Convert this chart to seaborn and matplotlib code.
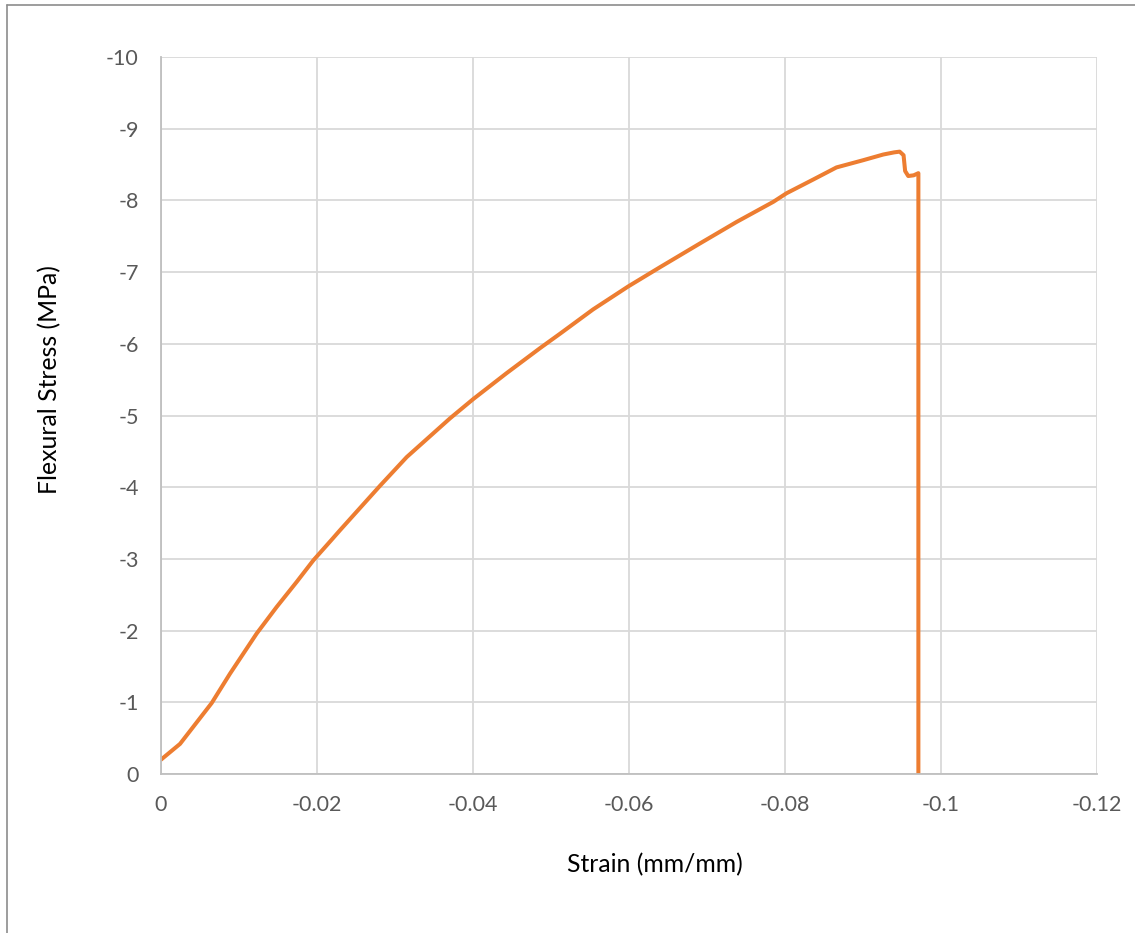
import matplotlib
matplotlib.use("Agg")
import matplotlib.pyplot as plt
import seaborn as sns
import pandas as pd
from matplotlib.lines import Line2D

strain = [0, -0.00244, -0.00415, -0.0065, -0.00885, -0.01227, -0.01483, -0.0174,
          -0.01953, -0.0219, -0.02295, -0.02808, -0.0315, -0.03705, -0.04004,
          -0.0443, -0.0486, -0.05115, -0.0554, -0.0599, -0.064, -0.0691, -0.0738,
          -0.0785, -0.0802, -0.0836, -0.0866, -0.090, -0.0926, -0.0940, -0.0947,
          -0.0952, -0.0954, -0.0958, -0.0965, -0.0971, -0.0971]
stress = [-0.2, -0.42, -0.66, -0.99, -1.40, -1.96, -2.33, -2.68,
          -2.98, -3.27, -3.40, -4.02, -4.42, -4.96, -5.23,
          -5.59, -5.94, -6.14, -6.48, -6.80, -7.07, -7.40, -7.70,
          -7.98, -8.10, -8.29, -8.46, -8.56, -8.64, -8.67, -8.68,
          -8.63, -8.41, -8.34, -8.35, -8.38, 0.0]

x_ticks = [0, -0.02, -0.04, -0.06, -0.08, -0.1, -0.12]
x_labels = ["0", "-0.02", "-0.04", "-0.06", "-0.08", "-0.1", "-0.12"]
y_ticks = [0, -1, -2, -3, -4, -5, -6, -7, -8, -9, -10]
y_labels = ["0", "-1", "-2", "-3", "-4", "-5", "-6", "-7", "-8", "-9", "-10"]

df = pd.DataFrame({"strain": strain, "stress": stress})

sns.set_style("white")
plt.rcParams["font.family"] = ["Lato", "DejaVu Sans"]

fig = plt.figure(figsize=(11.35, 9.33), dpi=100)
ax = fig.add_axes([161/1135, 1 - 774/933, (1097-161)/1135, (774-57)/933])

sns.lineplot(data=df, x="strain", y="stress", ax=ax, sort=False,
             color="#ED7D31", linewidth=2.9, estimator=None)

ax.set_xlim(0, -0.12)
ax.set_ylim(0, -10)
ax.set_xticks(x_ticks)
ax.set_xticklabels(x_labels)
ax.set_yticks(y_ticks)
ax.set_yticklabels(y_labels)
ax.grid(True, color="#D9D9D9", linewidth=1.3)
ax.set_axisbelow(True)
for s in ["top", "right"]:
    ax.spines[s].set_visible(False)
for s in ["left", "bottom"]:
    ax.spines[s].set_color("#BFBFBF")
    ax.spines[s].set_linewidth(1.3)
ax.tick_params(axis="both", length=0, labelsize=15.5, colors="#595959")
ax.tick_params(axis="x", pad=15)
ax.tick_params(axis="y", pad=16)
ax.set_xlabel("Strain (mm/mm)", fontsize=17.8, color="#000000")
ax.set_ylabel("Flexural Stress (MPa)", fontsize=17.8, color="#000000")
ax.xaxis.set_label_coords(0.528, -0.110)
ax.yaxis.set_label_coords(-0.106, 0.55)

# chart area border (partially visible)
fig.add_artist(Line2D([7/1135, 7/1135], [0, 1 - 5/933], transform=fig.transFigure,
                      color="#8C8C8C", linewidth=1.2))
fig.add_artist(Line2D([7/1135, 1], [1 - 5/933, 1 - 5/933], transform=fig.transFigure,
                      color="#8C8C8C", linewidth=1.2))

fig.savefig("out.png", dpi=100)
